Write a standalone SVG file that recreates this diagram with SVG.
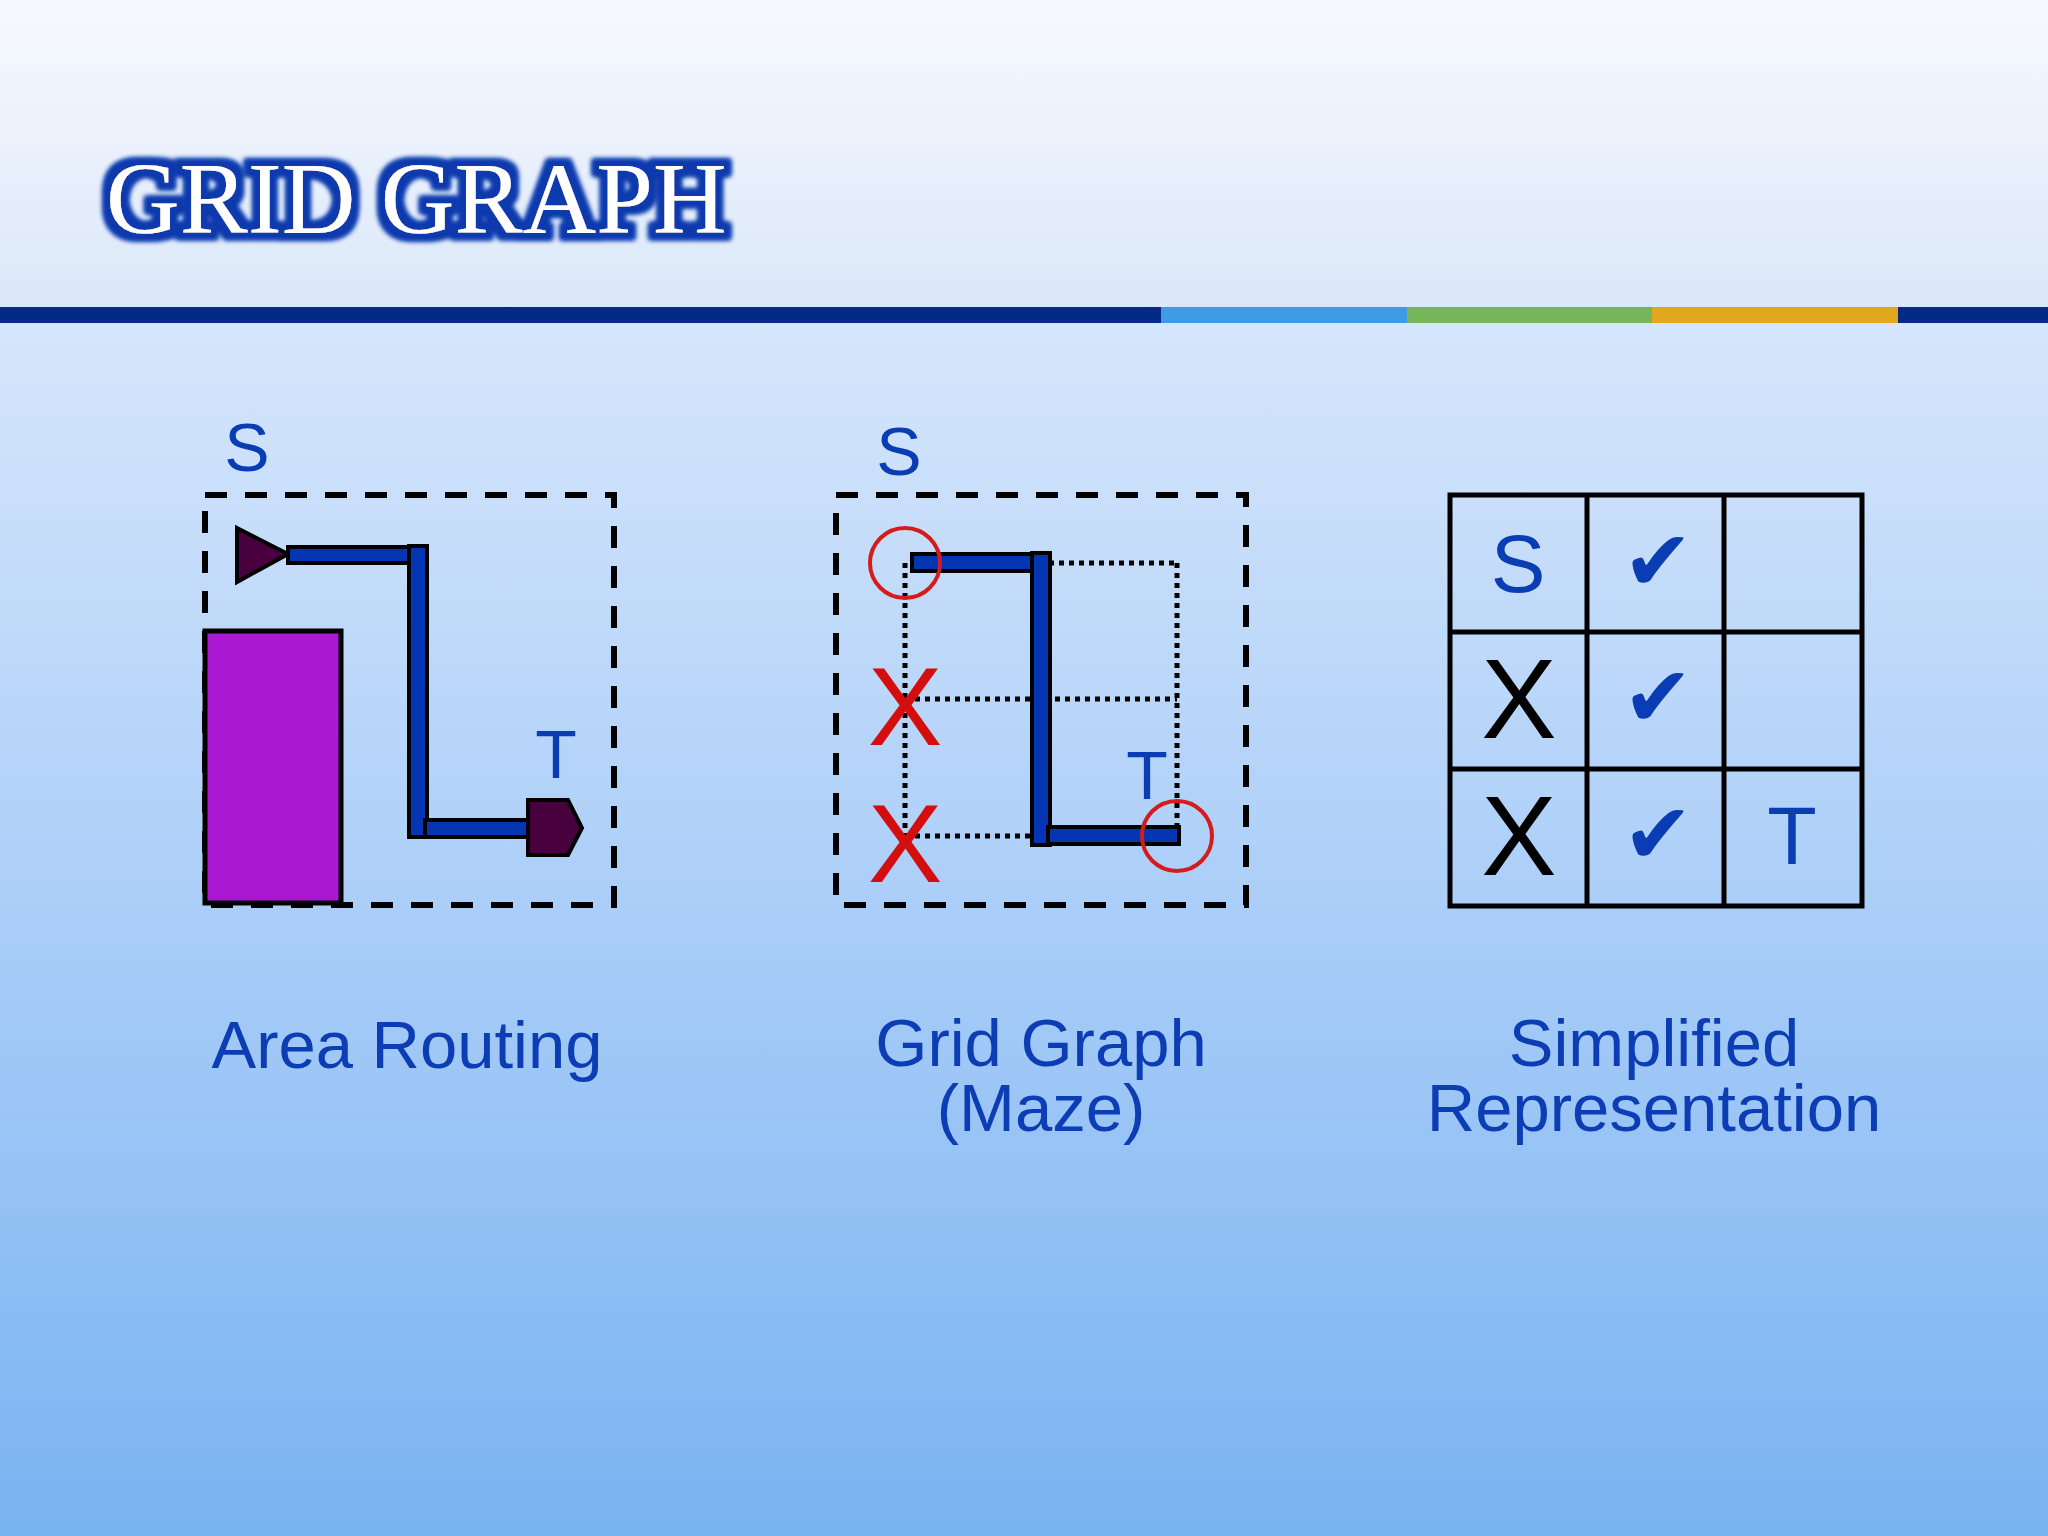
<svg xmlns="http://www.w3.org/2000/svg" width="2048" height="1536" viewBox="0 0 2048 1536">
<defs>
<linearGradient id="hdr" x1="0" y1="0" x2="0" y2="1">
<stop offset="0" stop-color="#f7f9fe"/>
<stop offset="1" stop-color="#dbe8f9"/>
</linearGradient>
<linearGradient id="body" x1="0" y1="0" x2="0" y2="1">
<stop offset="0" stop-color="#d6e6fb"/>
<stop offset="0.5" stop-color="#a9cdf8"/>
<stop offset="1" stop-color="#78b3f1"/>
</linearGradient>
<filter id="glow" x="-10%" y="-40%" width="120%" height="180%">
<feMorphology in="SourceAlpha" operator="dilate" radius="7" result="d"/>
<feGaussianBlur in="d" stdDeviation="2.5" result="b"/>
<feFlood flood-color="#0a3aae"/>
<feComposite in2="b" operator="in" result="g"/>
<feMerge><feMergeNode in="g"/><feMergeNode in="g"/><feMergeNode in="SourceGraphic"/></feMerge>
</filter>
<style>
.lbl{font-family:"Liberation Sans",Arial,sans-serif;fill:#0a3cb4;text-anchor:middle}
.cap{font-family:"Liberation Sans",Arial,sans-serif;fill:#0c3db5;text-anchor:middle;font-size:67px}
.dash{fill:none;stroke:#000;stroke-width:6;stroke-dasharray:22 18}
.dot{fill:none;stroke:#000;stroke-width:5;stroke-dasharray:5 5}
.wire{fill:#0436b4;stroke:#000;stroke-width:4}
.pin{fill:#48003e;stroke:#000;stroke-width:4;stroke-linejoin:miter}
.ring{fill:none;stroke:#d41c1c;stroke-width:4}
.redx{font-family:"Liberation Sans",Arial,sans-serif;fill:#d40e0e;text-anchor:middle;font-size:112px}
.blkx{font-family:"Liberation Sans",Arial,sans-serif;fill:#000;text-anchor:middle;font-size:113px}
.chk{font-family:"DejaVu Sans",sans-serif;fill:#0a3cb4;text-anchor:middle;font-size:84px}
.grid{fill:none;stroke:#000;stroke-width:5}
</style>
</defs>
<rect x="0" y="0" width="2048" height="307" fill="url(#hdr)"/>
<rect x="0" y="323" width="2048" height="1213" fill="url(#body)"/>
<g id="divider">
<rect x="0" y="307" width="1161" height="16" fill="#042a85"/>
<rect x="1161" y="307" width="246" height="16" fill="#3f9be3"/>
<rect x="1407" y="307" width="245" height="16" fill="#77b55a"/>
<rect x="1652" y="307" width="246" height="16" fill="#e2a71e"/>
<rect x="1898" y="307" width="150" height="16" fill="#042a85"/>
</g>
<g id="title">
<text x="106" y="233" font-family="'Liberation Serif','Times New Roman',serif" font-size="102" fill="#ffffff" filter="url(#glow)">GRID GRAPH</text>
</g>

<g id="area-routing">
<text class="lbl" x="247" y="471" font-size="68">S</text>
<rect class="dash" x="205" y="495" width="409" height="410"/>
<rect x="205" y="631" width="136" height="272" fill="#aa18d4" stroke="#000" stroke-width="5"/>
<polygon class="pin" points="237,528 237,582 288,554"/>
<rect class="wire" x="288" y="547" width="139" height="16"/>
<rect class="wire" x="409" y="546" width="18" height="291"/>
<rect class="wire" x="425" y="820" width="104" height="17"/>
<polygon class="pin" points="528,800 568,800 582,828 568,855 528,855"/>
<text class="lbl" x="556" y="778" font-size="68">T</text>
<text class="cap" x="407" y="1068">Area Routing</text>
</g>

<g id="grid-graph">
<text class="lbl" x="899" y="475" font-size="68">S</text>
<rect class="dash" x="836" y="495" width="410" height="410"/>
<g id="connectors">
<line class="dot" x1="1049" y1="563" x2="1177" y2="563"/>
<line class="dot" x1="905" y1="699" x2="1177" y2="699"/>
<line class="dot" x1="905" y1="836" x2="1032" y2="836"/>
<line class="dot" x1="905" y1="563" x2="905" y2="836"/>
<line class="dot" x1="1177" y1="563" x2="1177" y2="836"/>
</g>
<rect class="wire" x="912" y="554" width="137" height="17"/>
<rect class="wire" x="1032" y="553" width="18" height="292"/>
<rect class="wire" x="1048" y="827" width="131" height="17"/>
<circle class="ring" cx="905" cy="563" r="35"/>
<circle class="ring" cx="1177" cy="836" r="35"/>
<text class="redx" x="905" y="745">X</text>
<text class="redx" x="905" y="882">X</text>
<text class="lbl" x="1147" y="799" font-size="68">T</text>
<text class="cap" x="1041" y="1066">Grid Graph</text>
<text class="cap" x="1041" y="1131">(Maze)</text>
</g>

<g id="simplified">
<rect class="grid" x="1450" y="495" width="412" height="411"/>
<line class="grid" x1="1587" y1="495" x2="1587" y2="906"/>
<line class="grid" x1="1724" y1="495" x2="1724" y2="906"/>
<line class="grid" x1="1450" y1="632" x2="1862" y2="632"/>
<line class="grid" x1="1450" y1="769" x2="1862" y2="769"/>
<text class="lbl" x="1518" y="592" font-size="82">S</text>
<text class="chk" x="1658" y="590">✔</text>
<text class="blkx" x="1519" y="738">X</text>
<text class="chk" x="1658" y="726">✔</text>
<text class="blkx" x="1519" y="875">X</text>
<text class="chk" x="1658" y="863">✔</text>
<text class="lbl" x="1792" y="864" font-size="81">T</text>
<text class="cap" x="1654" y="1066">Simplified</text>
<text class="cap" x="1654" y="1131">Representation</text>
</g>
</svg>
